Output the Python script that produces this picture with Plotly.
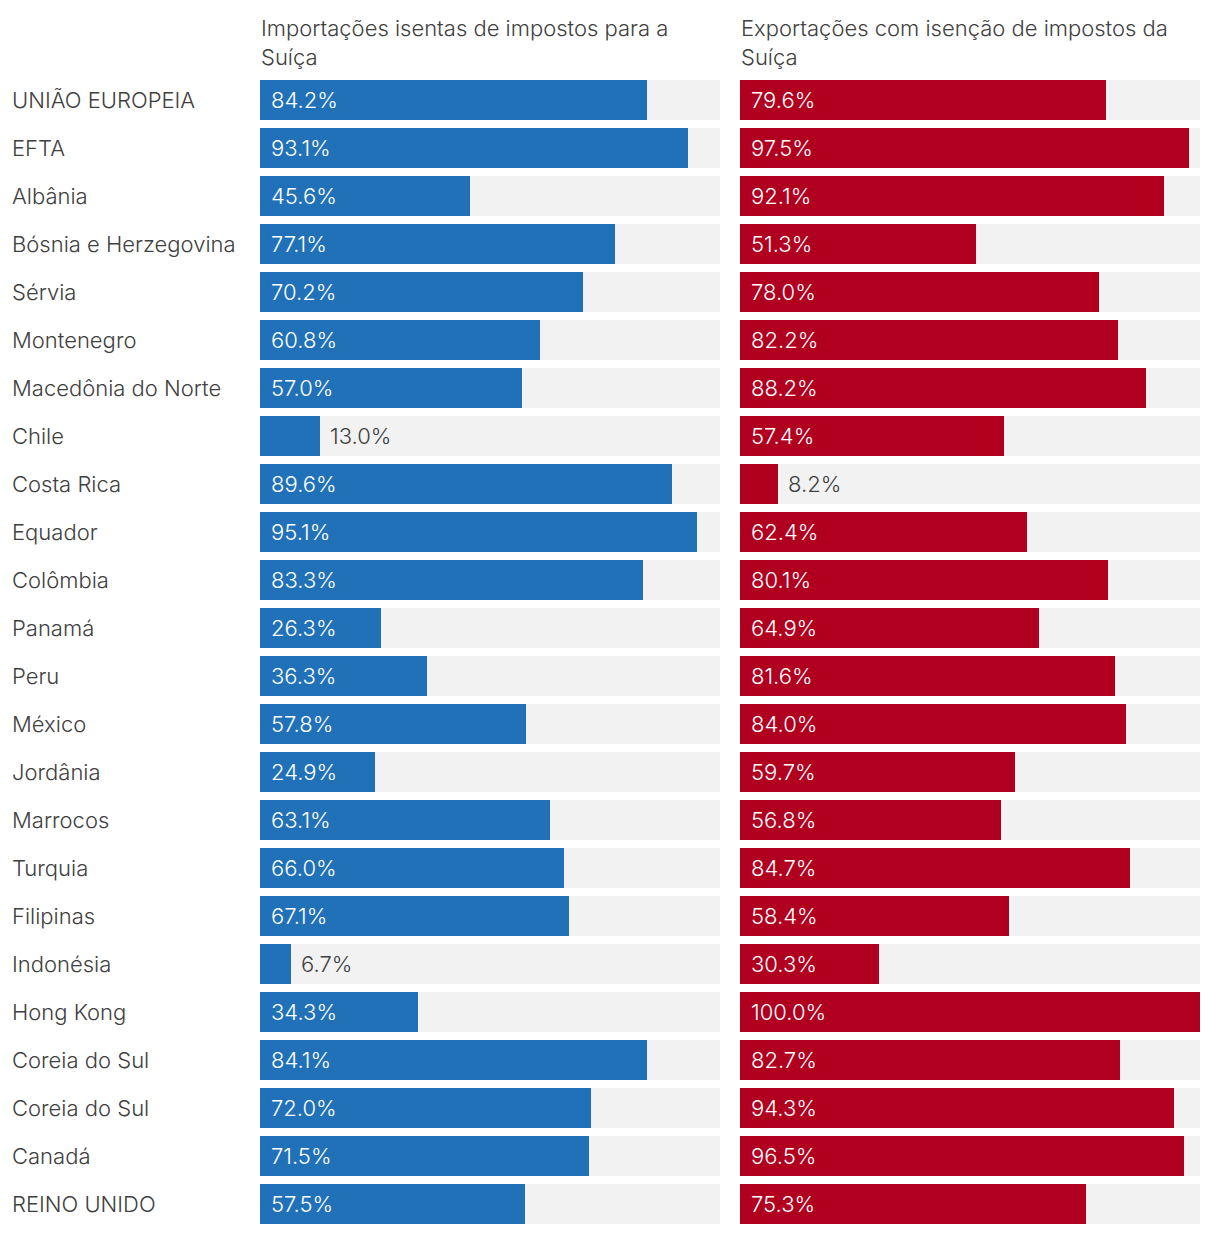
import plotly.graph_objects as go

countries = ["UNIÃO EUROPEIA", "EFTA", "Albânia", "Bósnia e Herzegovina", "Sérvia",
             "Montenegro", "Macedônia do Norte", "Chile", "Costa Rica", "Equador",
             "Colômbia", "Panamá", "Peru", "México", "Jordânia", "Marrocos", "Turquia",
             "Filipinas", "Indonésia", "Hong Kong", "Coreia do Sul", "Coreia do Sul",
             "Canadá", "REINO UNIDO"]
imports = [84.2, 93.1, 45.6, 77.1, 70.2, 60.8, 57.0, 13.0, 89.6, 95.1, 83.3, 26.3,
           36.3, 57.8, 24.9, 63.1, 66.0, 67.1, 6.7, 34.3, 84.1, 72.0, 71.5, 57.5]
exports = [79.6, 97.5, 92.1, 51.3, 78.0, 82.2, 88.2, 57.4, 8.2, 62.4, 80.1, 64.9,
           81.6, 84.0, 59.7, 56.8, 84.7, 58.4, 30.3, 100.0, 82.7, 94.3, 96.5, 75.3]
titles = ["Importações isentas de impostos para a<br>Suíça",
          "Exportações com isenção de impostos da<br>Suíça"]

BLUE = "#2171b9"
RED = "#b1001f"
GRAY = "#f2f2f2"
TXT = "#404040"
FONT = "Inter Light, Inter, Roboto"

W, H = 1220, 1234
ML, MR, MT, MB = 260, 20, 80, 10
plot_w = W - ML - MR
n = len(countries)
pos = list(range(n))
barw = 40 / 48
span = (H - MT - MB) / 48
ytop = -barw / 2

fig = go.Figure()
annotations = []
for k, (vals, color, xa) in enumerate([(imports, BLUE, "x"), (exports, RED, "x2")]):
    fig.add_trace(go.Bar(x=[100] * n, y=pos, orientation="h", marker_color=GRAY,
                         width=barw, xaxis=xa, yaxis="y", hoverinfo="skip",
                         marker_line_width=0))
    fig.add_trace(go.Bar(x=vals, y=pos, orientation="h", marker_color=color,
                         width=barw, xaxis=xa, yaxis="y", marker_line_width=0))
    for i, v in enumerate(vals):
        inside = v >= 20
        annotations.append(dict(
            x=0 if inside else v, y=i, xref=xa, yref="y",
            text=f"{v:.1f}%", showarrow=False, xanchor="left",
            xshift=9 if inside else 8,
            font=dict(family=FONT, size=22, color="white" if inside else TXT, weight=300),
        ))
    annotations.append(dict(
        x=0, y=1, xref=f"{xa} domain", yref="paper", text=titles[k], showarrow=False,
        xanchor="left", yanchor="bottom", yshift=8, xshift=-1, align="left",
        font=dict(family=FONT, size=22, color=TXT, weight=300),
    ))

for i, c in enumerate(countries):
    annotations.append(dict(
        x=(12 - ML) / plot_w, y=i, xref="paper", yref="y", text=c, showarrow=False,
        xanchor="left", xshift=-2, font=dict(family=FONT, size=22, color=TXT, weight=300),
    ))

left_end = 460 / plot_w
right_start = 480 / plot_w
axis_common = dict(range=[0, 100], showgrid=False, zeroline=False, showticklabels=False,
                   fixedrange=True)
fig.update_layout(
    width=W, height=H,
    margin=dict(l=ML, r=MR, t=MT, b=MB),
    paper_bgcolor="white", plot_bgcolor="white",
    barmode="overlay", showlegend=False, bargap=0,
    xaxis=dict(domain=[0, left_end], **axis_common),
    xaxis2=dict(domain=[right_start, 1], **axis_common),
    yaxis=dict(range=[ytop + span, ytop], showgrid=False, zeroline=False,
               showticklabels=False, fixedrange=True),
    annotations=annotations,
    font=dict(family=FONT, color=TXT),
)
fig.write_html("out.html", post_script="document.body.style.margin='0';",
               config={"displayModeBar": False})
